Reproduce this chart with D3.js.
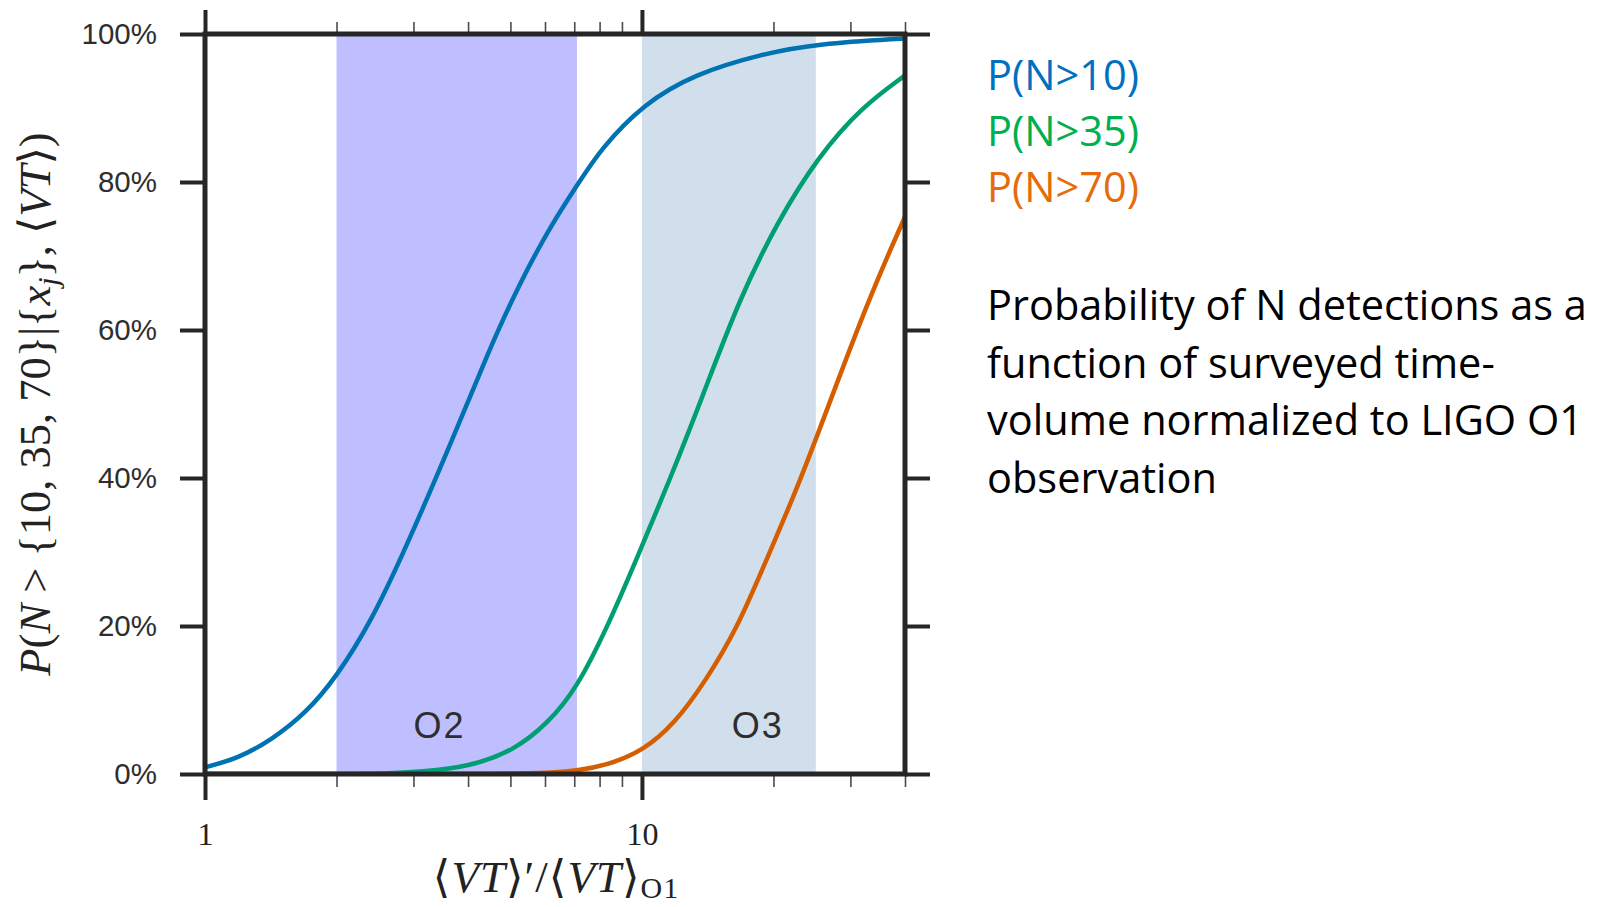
<!DOCTYPE html>
<html>
<head>
<meta charset="utf-8">
<script src="https://cdn.jsdelivr.net/npm/d3@7"></script>
<style>
  html, body { margin: 0; padding: 0; background: #fff; }
  svg { display: block; }
</style>
</head>
<body>
<svg id="chart" width="1601" height="907"></svg>
<script>
// Surveyed time-volume relative to O1 (x) and detection probability in percent (p)
const xBlue   = [1, 1.19, 1.42, 1.7, 2.0, 2.41, 2.87, 3.71, 4.43, 5.28, 6.29, 7.1, 8.05, 10.1, 13.2, 18.75, 25.3, 40];
const pBlue   = [0.9, 2.1, 4.6, 8.2, 13.1, 20.8, 30.3, 45.6, 56.8, 66.7, 74.8, 79.5, 84.5, 90.6, 94.6, 97.3, 98.7, 99.4];

const xGreen  = [1, 2, 2.6, 3.11, 4.05, 5.1, 6.08, 7.1, 8.34, 9.7, 11.66, 13.66, 16.7, 20.5, 25.3, 31.8, 40];
const pGreen  = [0, 0, 0.05, 0.3, 1.0, 3.2, 6.8, 11.6, 19.9, 28.9, 40.2, 50.5, 64.2, 74.8, 83.4, 90.1, 94.4];

const xOrange = [1, 5, 6.3, 7.1, 8.34, 10.1, 11.87, 13.9, 16.6, 19.25, 22.4, 25.3, 32.9, 40];
const pOrange = [0, 0, 0.2, 0.45, 1.2, 3.2, 6.8, 12.3, 19.9, 28.9, 37.9, 46.0, 64.0, 75.3];

// Observing runs shown as shaded spans, with where each name sits
const runNames   = ["O2", "O3"];
const runStarts  = [2, 10];
const runEnds    = [7.1, 25];
const runLabelAt = [3.44, 18.4];

const seriesNames = ["P(N>10)", "P(N>35)", "P(N>70)"];

const xMajorTicks = [1, 10];
const xMinorTicks = [2, 3, 4, 5, 6, 7, 8, 9, 20, 30, 40];
const yTicks      = [0, 20, 40, 60, 80, 100];

const descriptionLines = [
  "Probability of N detections as a",
  "function of surveyed time-",
  "volume normalized to LIGO O1",
  "observation"
];

// ---- layout ----
const plot = { left: 205, right: 905, top: 34, bottom: 774 };
const ink = "#262626";
const curveColors  = ["#0072B2", "#009E73", "#D55E00"];
const legendColors = ["#0070C0", "#00B050", "#E46C0A"];
const runFills = ["#BFBFFF", "#D1DFEC"];
const textFont = "'Open Sans', Lato, sans-serif";

const svg = d3.select("#chart");

const x = d3.scaleLog().domain([1, 40]).range([plot.left, plot.right]);
const y = d3.scaleLinear().domain([0, 100]).range([plot.bottom, plot.top]);

svg.append("defs").append("clipPath").attr("id", "plotClip")
  .append("rect")
  .attr("x", plot.left).attr("y", plot.top)
  .attr("width", plot.right - plot.left).attr("height", plot.bottom - plot.top);

// shaded observing runs
const runs = runNames.map((n, i) => ({
  name: n, start: runStarts[i], end: runEnds[i], at: runLabelAt[i], fill: runFills[i]
}));
svg.append("g").selectAll("rect").data(runs).join("rect")
  .attr("x", d => x(d.start))
  .attr("width", d => x(d.end) - x(d.start))
  .attr("y", plot.top)
  .attr("height", plot.bottom - plot.top)
  .attr("fill", d => d.fill);

// probability curves
const series = [
  { xs: xBlue, ps: pBlue },
  { xs: xGreen, ps: pGreen },
  { xs: xOrange, ps: pOrange }
].map((s, i) => ({ color: curveColors[i], pts: s.xs.map((v, j) => ({ x: v, p: s.ps[j] })) }));

const line = d3.line()
  .x(d => x(d.x))
  .y(d => y(d.p))
  .curve(d3.curveBasis);

svg.append("g").attr("clip-path", "url(#plotClip)")
  .selectAll("path").data(series).join("path")
  .attr("d", d => line(d.pts))
  .attr("fill", "none")
  .attr("stroke", d => d.color)
  .attr("stroke-width", 4.5)
  .attr("stroke-linejoin", "round");

// run labels
svg.append("g").selectAll("text").data(runs).join("text")
  .attr("x", d => x(d.at))
  .attr("y", 738)
  .attr("text-anchor", "middle")
  .attr("font-family", "'Liberation Sans', sans-serif")
  .attr("font-size", 36)
  .attr("letter-spacing", 2)
  .attr("fill", "#2e2e2e")
  .text(d => d.name);

// ---- axes ----
function styleAxis(g, width, color) {
  g.select(".domain").remove();
  g.selectAll(".tick line").attr("stroke", color).attr("stroke-width", width);
}

// bottom
svg.append("g").attr("transform", `translate(0,${plot.bottom})`)
  .call(d3.axisBottom(x).tickValues(xMinorTicks).tickSize(13).tickFormat(""))
  .call(g => styleAxis(g, 1.6, "#4a4a4a"));
svg.append("g").attr("transform", `translate(0,${plot.bottom})`)
  .call(d3.axisBottom(x).tickValues(xMajorTicks).tickSize(26).tickPadding(22).tickFormat(d3.format("d")))
  .call(g => styleAxis(g, 4, ink))
  .call(g => g.selectAll("text")
    .attr("font-family", "'Liberation Serif', serif")
    .attr("font-size", 32)
    .attr("fill", "#222"));

// top
svg.append("g").attr("transform", `translate(0,${plot.top})`)
  .call(d3.axisTop(x).tickValues(xMinorTicks).tickSize(12).tickFormat(""))
  .call(g => styleAxis(g, 1.6, "#4a4a4a"));
svg.append("g").attr("transform", `translate(0,${plot.top})`)
  .call(d3.axisTop(x).tickValues(xMajorTicks).tickSize(24).tickFormat(""))
  .call(g => styleAxis(g, 4, ink));

// left
svg.append("g").attr("transform", `translate(${plot.left},0)`)
  .call(d3.axisLeft(y).tickValues(yTicks).tickSize(25).tickPadding(23).tickFormat(d => d + "%"))
  .call(g => styleAxis(g, 4, ink))
  .call(g => g.selectAll("text")
    .attr("font-family", "'Liberation Sans', sans-serif")
    .attr("font-size", 29.5)
    .attr("fill", "#2e2e2e"));

// right
svg.append("g").attr("transform", `translate(${plot.right},0)`)
  .call(d3.axisRight(y).tickValues(yTicks).tickSize(25).tickFormat(""))
  .call(g => styleAxis(g, 4, ink));

// frame
svg.append("rect")
  .attr("x", plot.left).attr("y", plot.top)
  .attr("width", plot.right - plot.left).attr("height", plot.bottom - plot.top)
  .attr("fill", "none").attr("stroke", ink).attr("stroke-width", 5);

// ---- axis titles ----
const serif = "'Liberation Serif', 'DejaVu Serif', serif";

const xt = svg.append("text")
  .attr("x", 556).attr("y", 892)
  .attr("text-anchor", "middle")
  .attr("font-family", serif)
  .attr("font-size", 45)
  .attr("letter-spacing", 1)
  .attr("fill", "#222");
xt.append("tspan").text("\u27E8");
xt.append("tspan").attr("font-style", "italic").text("VT");
xt.append("tspan").text("\u27E9\u2032/\u27E8");
xt.append("tspan").attr("font-style", "italic").text("VT");
xt.append("tspan").text("\u27E9");
xt.append("tspan").attr("font-size", 30).attr("dy", 6).text("O1");

const yt = svg.append("text")
  .attr("transform", "translate(50,404) rotate(-90)")
  .attr("text-anchor", "middle")
  .attr("font-family", serif)
  .attr("font-size", 44.5)
  .attr("fill", "#222");
yt.append("tspan").attr("font-style", "italic").text("P");
yt.append("tspan").text("(");
yt.append("tspan").attr("font-style", "italic").text("N");
yt.append("tspan").text(" > {10, 35, 70}|{");
yt.append("tspan").attr("font-style", "italic").text("x");
yt.append("tspan").attr("font-style", "italic").attr("font-size", 30).attr("dy", 8).text("j");
yt.append("tspan").attr("dy", -8).text("}, \u27E8");
yt.append("tspan").attr("font-style", "italic").text("VT");
yt.append("tspan").text("\u27E9)");

// ---- legend and description ----
svg.append("g").selectAll("text").data(seriesNames).join("text")
  .attr("x", 987)
  .attr("y", (d, i) => 90 + i * 56)
  .attr("font-family", textFont)
  .attr("font-size", 41.5)
  .attr("fill", (d, i) => legendColors[i])
  .text(d => d);

svg.append("g").selectAll("text").data(descriptionLines).join("text")
  .attr("x", 987)
  .attr("y", (d, i) => 320 + i * 57.5)
  .attr("font-family", textFont)
  .attr("font-size", 41.5)
  .attr("fill", "#000")
  .text(d => d);
</script>
</body>
</html>
